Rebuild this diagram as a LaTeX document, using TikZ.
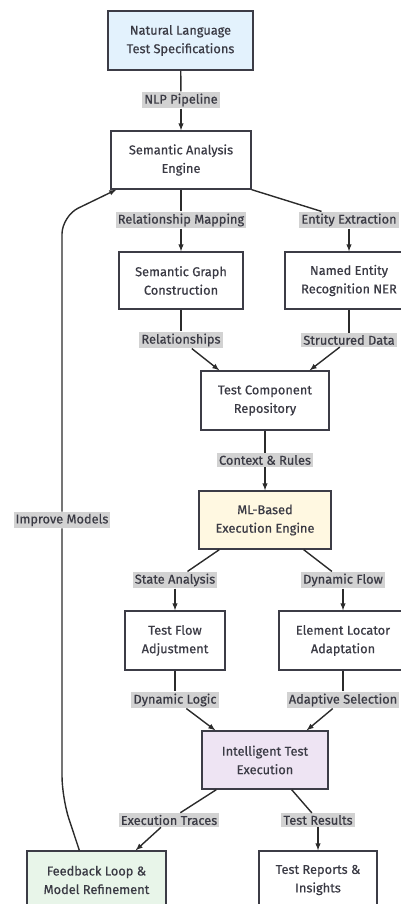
\documentclass[tikz,border=0pt]{standalone}
\usepackage{fontspec}
\setmainfont{Fira Sans}[FakeBold=0.5]
\usepackage{tikz}
\usetikzlibrary{arrows}
\definecolor{boxline}{HTML}{3C3C46}
\definecolor{edgeline}{HTML}{2B2B2B}
\definecolor{txt}{HTML}{3A3A44}
\definecolor{lblgray}{HTML}{D2D2D2}
\definecolor{specblue}{HTML}{E3F2FD}
\definecolor{enginecream}{HTML}{FFF8E1}
\definecolor{execlilac}{HTML}{EEE4F3}
\definecolor{loopgreen}{HTML}{E8F5E9}

\begin{document}
\begin{tikzpicture}[x=1pt,y=-1pt,>=latex,
    box/.style={draw=boxline,line width=1.3pt,fill=white,text=txt,align=center,
      inner sep=0pt,font=\fontsize{12.8}{18.5}\selectfont},
    lbl/.style={fill=lblgray,text=txt,inner sep=2pt,
      font=\fontsize{12.8}{14}\selectfont},
    edge/.style={draw=edgeline,line width=1.4pt}]
    \useasboundingbox (0,0) rectangle (401,904);

    \node[box,fill=specblue,minimum width=145pt,minimum height=59pt] (nls) at (180.5,40.5) {Natural Language\\Test Specifications};
    \node[box,minimum width=140pt,minimum height=58pt] (sae) at (181,160) {Semantic Analysis\\Engine};
    \node[box,minimum width=124pt,minimum height=57pt] (sgc) at (181,280.5) {Semantic Graph\\Construction};
    \node[box,minimum width=128pt,minimum height=57pt] (ner) at (349,280.5) {Named Entity\\Recognition NER};
    \node[box,minimum width=128pt,minimum height=59pt] (tcr) at (265,400.5) {Test Component\\Repository};
    \node[box,fill=enginecream,minimum width=132pt,minimum height=58pt] (mle) at (265,520) {ML-Based\\Execution Engine};
    \node[box,minimum width=100pt,minimum height=59pt] (tfa) at (175,640.5) {Test Flow\\Adjustment};
    \node[box,minimum width=128pt,minimum height=59pt] (ela) at (343,640.5) {Element Locator\\Adaptation};
    \node[box,fill=execlilac,minimum width=126pt,minimum height=58pt] (ite) at (265,760) {Intelligent Test\\Execution};
    \node[box,fill=loopgreen,minimum width=139pt,minimum height=58pt] (fbl) at (96.5,880) {Feedback Loop \&\\Model Refinement};
    \node[box,minimum width=118pt,minimum height=58pt] (trp) at (318,880) {Test Reports \&\\Insights};

    \node[lbl] (lNlp) at (181,100) {NLP Pipeline};
    \node[lbl] (lMap) at (181,220) {Relationship Mapping};
    \node[lbl] (lEnt) at (349,220) {Entity Extraction};
    \node[lbl] (lRel) at (181,340) {Relationships};
    \node[lbl] (lStr) at (349,340) {Structured Data};
    \node[lbl] (lCtx) at (265,460) {Context \& Rules};
    \node[lbl] (lImp) at (62,520) {Improve Models};
    \node[lbl] (lSta) at (175,580) {State Analysis};
    \node[lbl] (lDyn) at (343,580) {Dynamic Flow};
    \node[lbl] (lLog) at (175,700) {Dynamic Logic};
    \node[lbl] (lAda) at (343,700) {Adaptive Selection};
    \node[lbl] (lTrc) at (169,820) {Execution Traces};
    \node[lbl] (lRes) at (318,820) {Test Results};

    \coordinate (loopLow) at (62,798);
    \coordinate (loopTop) at (62,216);

    \draw[edge] (nls) -- (lNlp);
    \draw[edge,->] (lNlp) -- (sae);
    \draw[edge] (sae) -- (lMap);
    \draw[edge,->] (lMap) -- (sgc);
    \draw[edge] (sae.south east) -- (lEnt);
    \draw[edge,->] (lEnt) -- (ner);
    \draw[edge] (sgc) -- (lRel);
    \draw[edge,->] (lRel) -- ([xshift=19pt]tcr.north west);
    \draw[edge] (ner) -- (lStr);
    \draw[edge,->] (lStr) -- ([xshift=-20pt]tcr.north east);
    \draw[edge] (tcr) -- (lCtx);
    \draw[edge,->] (lCtx) -- (mle);
    \draw[edge] ([xshift=21pt]mle.south west) -- (lSta);
    \draw[edge,->] (lSta) -- (tfa);
    \draw[edge] ([xshift=-28pt]mle.south east) -- (lDyn);
    \draw[edge,->] (lDyn) -- (ela);
    \draw[edge] (tfa) -- (lLog);
    \draw[edge,->] (lLog) -- ([xshift=14pt]ite.north west);
    \draw[edge] (ela) -- (lAda);
    \draw[edge,->] (lAda) -- ([xshift=-22pt]ite.north east);
    \draw[edge] ([xshift=15pt]ite.south west) -- (lTrc);
    \draw[edge,->] (lTrc) -- ([xshift=-31pt]fbl.north east);
    \draw[edge] ([xshift=-37pt]ite.south east) -- (lRes);
    \draw[edge,->] (lRes) -- (trp);
    \draw[edge,rounded corners=22pt] ([xshift=53pt]fbl.north west) -- (loopLow) -- (lImp);
    \draw[edge,->,rounded corners=18pt] (lImp) -- (loopTop) -- ([xshift=6pt]sae.south west);
\end{tikzpicture}
\end{document}
